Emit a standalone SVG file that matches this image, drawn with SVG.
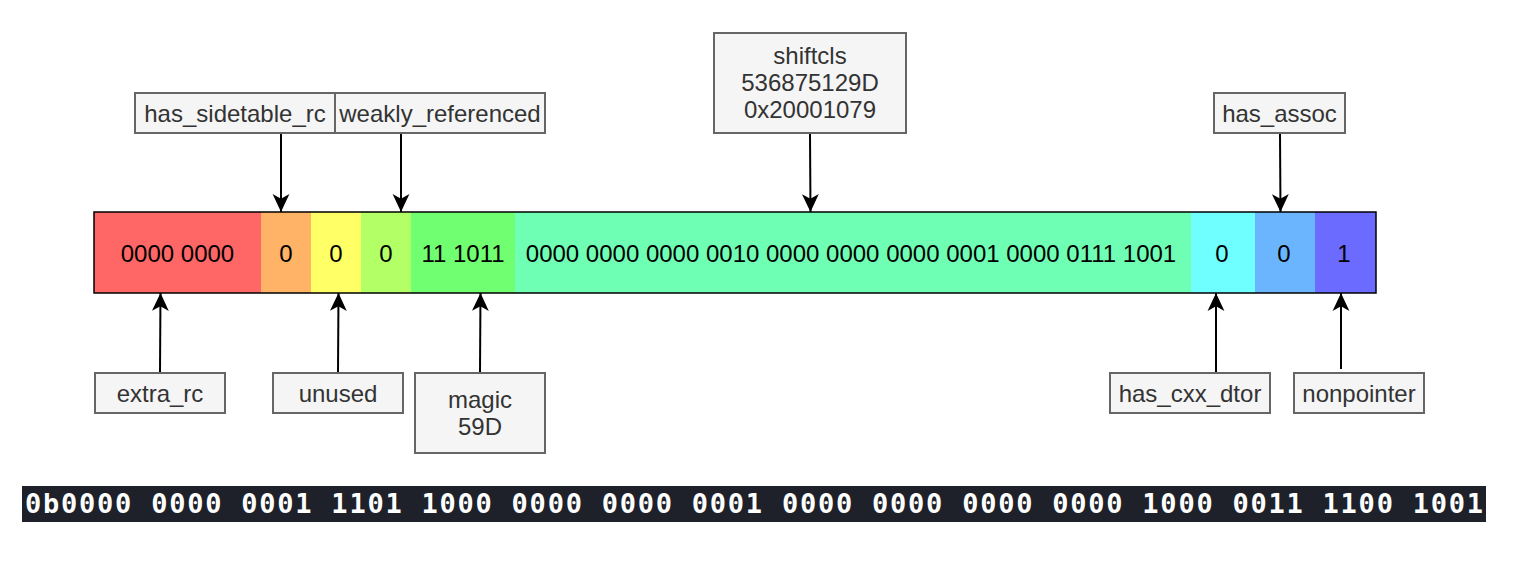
<svg xmlns="http://www.w3.org/2000/svg" width="1524" height="572" viewBox="0 0 1524 572">
<style>
.lbl rect{fill:#f5f5f5;stroke:#666666;stroke-width:2}
.lbl text{font-family:"Liberation Sans",Arial,sans-serif;font-size:24px;fill:#333333;text-anchor:middle}
.seg text{font-family:"Liberation Sans",Arial,sans-serif;font-size:24px;fill:#000000;text-anchor:middle}
.conn line{stroke:#000000;stroke-width:2;marker-end:url(#arr)}
</style>
<defs>
<marker id="arr" markerUnits="userSpaceOnUse" markerWidth="20" markerHeight="20" viewBox="-18 -9 19 18" refX="0" refY="0" orient="auto">
<path d="M0,0 L-17,-8 L-12.5,0 L-17,8 Z" fill="#000000"/>
</marker>
</defs>
<rect width="1524" height="572" fill="#ffffff"/>

<g id="bar" class="seg">
<rect x="94" y="212" width="167" height="81" fill="#FF6666"/>
<rect x="261" y="212" width="50" height="81" fill="#FFB366"/>
<rect x="311" y="212" width="50" height="81" fill="#FFFF66"/>
<rect x="361" y="212" width="50" height="81" fill="#B3FF66"/>
<rect x="411" y="212" width="104" height="81" fill="#70FF70"/>
<rect x="515" y="212" width="676" height="81" fill="#6EFFB5"/>
<rect x="1191" y="212" width="64" height="81" fill="#70FFFF"/>
<rect x="1255" y="212" width="60" height="81" fill="#6BB5FF"/>
<rect x="1315" y="212" width="61" height="81" fill="#6B6BFF"/>
<rect x="94" y="212" width="1282" height="81" fill="none" stroke="#000000" stroke-width="1.5"/>
<text x="177.5" y="261.5">0000 0000</text>
<text x="286" y="261.5">0</text>
<text x="336" y="261.5">0</text>
<text x="386" y="261.5">0</text>
<text x="463" y="261.5">11 1011</text>
<text x="851" y="261.5">0000 0000 0000 0010 0000 0000 0000 0001 0000 0111 1001</text>
<text x="1222" y="261.5">0</text>
<text x="1284" y="261.5">0</text>
<text x="1344" y="261.5">1</text>
</g>

<g id="has_sidetable_rc" class="lbl">
<rect x="135" y="93" width="200" height="40"/>
<text x="235" y="121.6">has_sidetable_rc</text>
</g>
<g id="weakly_referenced" class="lbl">
<rect x="335" y="93" width="210" height="40"/>
<text x="440" y="121.6">weakly_referenced</text>
</g>
<g id="shiftcls" class="lbl">
<rect x="714" y="33" width="192" height="100"/>
<text x="810" y="64.3">shiftcls</text>
<text x="810" y="91.3">536875129D</text>
<text x="810" y="118.3">0x20001079</text>
</g>
<g id="has_assoc" class="lbl">
<rect x="1214" y="93" width="131" height="40"/>
<text x="1279.5" y="121.6">has_assoc</text>
</g>
<g id="extra_rc" class="lbl">
<rect x="95" y="373" width="130" height="40"/>
<text x="160" y="401.6">extra_rc</text>
</g>
<g id="unused" class="lbl">
<rect x="273" y="373" width="130" height="40"/>
<text x="338" y="401.6">unused</text>
</g>
<g id="magic" class="lbl">
<rect x="415" y="373" width="130" height="80"/>
<text x="480" y="408">magic</text>
<text x="480" y="435">59D</text>
</g>
<g id="has_cxx_dtor" class="lbl">
<rect x="1110" y="373" width="160" height="40"/>
<text x="1190" y="401.6">has_cxx_dtor</text>
</g>
<g id="nonpointer" class="lbl">
<rect x="1294" y="373" width="130" height="40"/>
<text x="1359" y="401.6">nonpointer</text>
</g>

<g id="connectors" class="conn">
<line x1="281" y1="134" x2="281" y2="212"/>
<line x1="401" y1="134" x2="401" y2="212"/>
<line x1="810" y1="134" x2="810.5" y2="212"/>
<line x1="1280" y1="134" x2="1280.5" y2="212"/>
<line x1="160" y1="372" x2="160.5" y2="293"/>
<line x1="338" y1="372" x2="338.5" y2="293"/>
<line x1="480" y1="372" x2="480.5" y2="293"/>
<line x1="1216" y1="372" x2="1216" y2="293"/>
<line x1="1341" y1="369" x2="1341" y2="293"/>
</g>

<g id="binary">
<rect x="22" y="486" width="1464" height="36" fill="#1E2129"/>
<text x="25" y="513" font-family="'DejaVu Sans Mono','Liberation Mono',monospace" font-size="27" font-weight="bold" fill="#ffffff" textLength="1458" lengthAdjust="spacing">0b0000 0000 0001 1101 1000 0000 0000 0001 0000 0000 0000 0000 1000 0011 1100 1001</text>
</g>
</svg>
